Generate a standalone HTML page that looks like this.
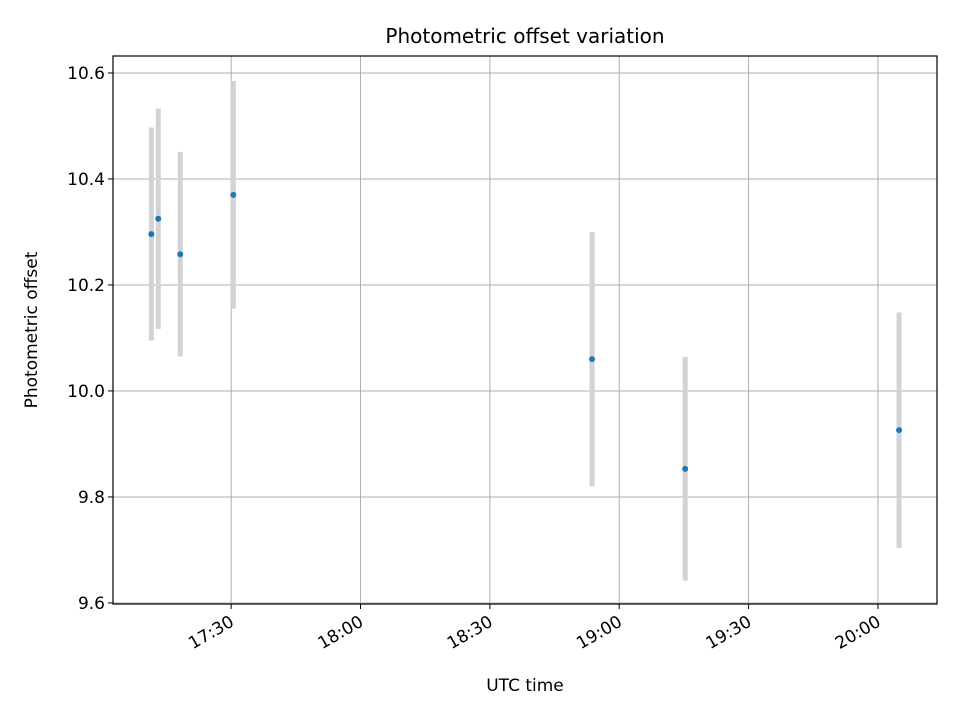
<!DOCTYPE html>
<html><head><meta charset="utf-8"><style>
body{margin:0;background:#fff;font-family:"DejaVu Sans","Liberation Sans",sans-serif;}
svg text{font-family:"DejaVu Sans","Liberation Sans",sans-serif;}
</style></head><body>
<svg id="chart" width="960" height="720" xmlns="http://www.w3.org/2000/svg">
<rect width="960" height="720" fill="#fff"/>
<g id="grid"></g>
<g id="bars"></g>
<g id="pts"></g>
<rect x="113" y="56" width="824" height="548" fill="none" stroke="#000" stroke-width="1.2"/>
<g id="xt"></g>
<g id="yt"></g>
<text x="525" y="43" text-anchor="middle" font-size="20">Photometric offset variation</text>
<text x="525" y="691" text-anchor="middle" font-size="17">UTC time</text>
<text transform="translate(37,330) rotate(-90)" text-anchor="middle" font-size="17">Photometric offset</text>
</svg>
<script>
const times=[1031.5,1033.1,1038.2,1050.5,1133.7,1155.3,1204.9];
const values=[10.296,10.325,10.258,10.37,10.06,9.853,9.926];
const errors=[0.201,0.208,0.193,0.215,0.24,0.211,0.222];
const xTickMinutes=[1050,1080,1110,1140,1170,1200];
const xTickLabels=["17:30","18:00","18:30","19:00","19:30","20:00"];
const yTicks=[9.6,9.8,10.0,10.2,10.4,10.6];
const yTickLabels=["9.6","9.8","10.0","10.2","10.4","10.6"];
const X0=113,X1=937,Y0=56,Y1=604,xmin=1022.6,xmax=1213.7,ymin=9.598,ymax=10.632;
const sx=t=>X0+(t-xmin)/(xmax-xmin)*(X1-X0);
const sy=v=>Y1-(v-ymin)/(ymax-ymin)*(Y1-Y0);
const NS="http://www.w3.org/2000/svg";
function mk(tag,attrs,parent){const e=document.createElementNS(NS,tag);for(const k in attrs)e.setAttribute(k,attrs[k]);document.getElementById(parent).appendChild(e);return e;}
xTickMinutes.forEach((t,i)=>{const x=sx(t);
 const g=mk('line',{x1:x,x2:x,y1:Y0,y2:Y1,stroke:'#b0b0b0','stroke-width':1},'grid');
 
 
 const tk=mk('line',{x1:x,x2:x,y1:Y1,y2:Y1+5,stroke:'#000'},'xt');
 
 
 const ax=x+4, ay=Y1+21;
 const tx=mk('text',{x:ax,y:ay,'text-anchor':'end','font-size':17,transform:`rotate(-30 ${ax} ${ay})`},'xt');
 tx.textContent=xTickLabels[i];
 
 
});
yTicks.forEach((v,i)=>{const y=sy(v);
 const g=mk('line',{x1:X0,x2:X1,y1:y,y2:y,stroke:'#b0b0b0','stroke-width':1},'grid');
 
 
 const tk=mk('line',{x1:X0-5,x2:X0,y1:y,y2:y,stroke:'#000'},'yt');
 
 
 const tx=mk('text',{x:X0-8,y:y+6,'text-anchor':'end','font-size':17},'yt');
 tx.textContent=yTickLabels[i];
 
 
});
times.forEach((t,i)=>{const x=sx(t);
 const b=mk('line',{x1:x,x2:x,y1:sy(values[i]+errors[i]),y2:sy(values[i]-errors[i]),stroke:'#d3d3d3','stroke-width':5},'bars');
 
 
 const p=mk('circle',{cx:x,cy:sy(values[i]),r:3,fill:'#1f77b4'},'pts');
 
 
});
</script>
</body></html>
